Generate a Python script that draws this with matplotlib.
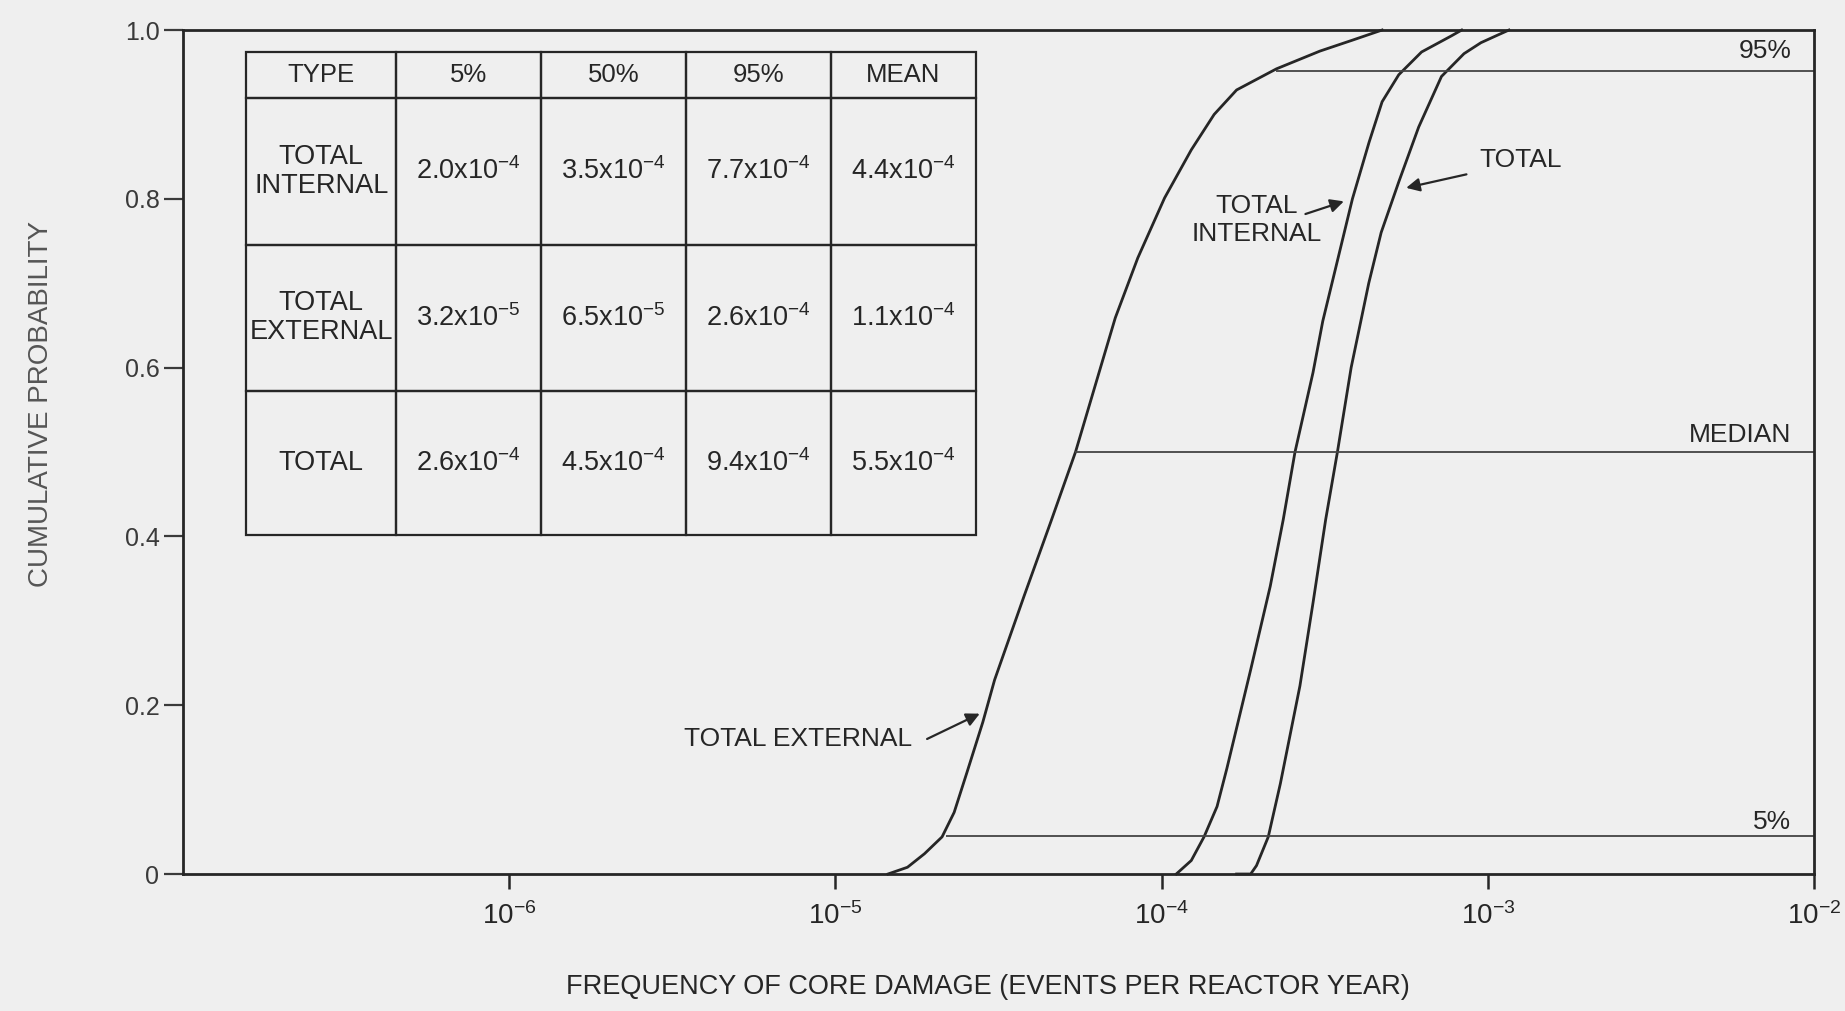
import numpy as np
import matplotlib
matplotlib.use('Agg')
import matplotlib.pyplot as plt
from matplotlib.ticker import NullLocator

# 字体
plt.rcParams['font.family'] = ['Liberation Sans', 'DejaVu Sans']
plt.rcParams['mathtext.fontset'] = 'custom'
plt.rcParams['mathtext.rm'] = 'Liberation Sans'
plt.rcParams['mathtext.it'] = 'Liberation Sans:italic'
plt.rcParams['mathtext.bf'] = 'Liberation Sans:bold'

INK = '#262626'
BG = '#efefef'

# curves: frequency (events per reactor year) vs cumulative probability
ext_freq = [1.449e-5, 1.663e-5, 1.875e-5, 2.123e-5, 2.312e-5, 2.529e-5, 2.831e-5, 3.076e-5,
            3.793e-5, 4.581e-5, 5.445e-5, 6.577e-5, 7.211e-5, 8.453e-5, 1.021e-4, 1.233e-4,
            1.449e-4, 1.698e-4, 2.249e-4, 3.055e-4, 3.846e-4, 4.742e-4]
ext_prob = [0.0, 0.008, 0.024, 0.044, 0.073, 0.120, 0.180, 0.230,
            0.330, 0.418, 0.50, 0.607, 0.659, 0.730, 0.801, 0.858,
            0.900, 0.929, 0.954, 0.975, 0.988, 1.0]

int_freq = [1.109e-4, 1.233e-4, 1.349e-4, 1.479e-4, 1.585e-4, 1.875e-4, 2.153e-4, 2.360e-4,
            2.564e-4, 2.911e-4, 3.119e-4, 3.846e-4, 4.325e-4, 4.742e-4, 5.333e-4, 6.266e-4,
            7.727e-4, 8.318e-4]
int_prob = [0.0, 0.016, 0.044, 0.080, 0.125, 0.242, 0.341, 0.42,
            0.50, 0.594, 0.655, 0.800, 0.867, 0.915, 0.947, 0.974,
            0.993, 1.0]

tot_freq = [1.698e-4, 1.875e-4, 1.954e-4, 2.123e-4, 2.312e-4, 2.655e-4, 2.911e-4, 3.184e-4,
            3.459e-4, 3.811e-4, 4.315e-4, 4.710e-4, 5.333e-4, 6.138e-4, 7.211e-4, 8.453e-4,
            9.528e-4, 1.072e-3, 1.161e-3]
tot_prob = [0.0, 0.0, 0.010, 0.044, 0.107, 0.223, 0.321, 0.42,
            0.50, 0.60, 0.70, 0.76, 0.82, 0.885, 0.945, 0.972,
            0.985, 0.994, 1.0]

# percentile reference lines (start where the external curve crosses them)
ref_levels = [0.045, 0.50, 0.952]
ref_start = [2.18e-5, 5.445e-5, 2.249e-4]
ref_labels = ['5%', 'MEDIAN', '95%']
ref_label_y = [0.062, 0.52, 0.975]

# table
col_labels = ['TYPE', '5%', '50%', '95%', 'MEAN']
types = ['TOTAL\nINTERNAL', 'TOTAL\nEXTERNAL', 'TOTAL']
p05 = [2.0e-4, 3.2e-5, 2.6e-4]
p50 = [3.5e-4, 6.5e-5, 4.5e-4]
p95 = [7.7e-4, 2.6e-4, 9.4e-4]
means = [4.4e-4, 1.1e-4, 5.5e-4]

x_ticks = [1e-6, 1e-5, 1e-4, 1e-3, 1e-2]
y_ticks = [0, 0.2, 0.4, 0.6, 0.8, 1.0]
y_ticklabels = ['0', '0.2', '0.4', '0.6', '0.8', '1.0']


def sci(v):
    e = int(np.floor(np.log10(v) + 1e-9))
    m = round(v / 10 ** e, 1)
    return f'{m:.1f}x10$^{{{e}}}$'


fig = plt.figure(figsize=(18.45, 10.11), dpi=100, facecolor=BG)
ax = fig.add_axes([0.0992, 0.1355, 0.884, 0.8348], facecolor=BG)
ax.set_xscale('log')
ax.set_xlim(1e-7, 1e-2)
ax.set_ylim(0, 1)

for f, p in [(ext_freq, ext_prob), (int_freq, int_prob), (tot_freq, tot_prob)]:
    ax.plot(f, p, color=INK, lw=2.0, clip_on=False, solid_joinstyle='round')

for lvl, x0 in zip(ref_levels, ref_start):
    ax.hlines(lvl, x0, 1e-2, color='#444444', lw=1.3)

ytr = ax.get_yaxis_transform()
for lab, yy in zip(ref_labels, ref_label_y):
    ax.text(0.986, yy, lab, transform=ytr, ha='right', va='center',
            fontsize=19, color=INK)

# curve labels
arrow = dict(arrowstyle='-|>', color=INK, lw=1.6, mutation_scale=20, shrinkA=0, shrinkB=0)
ax.text(1.72e-5, 0.16, 'TOTAL EXTERNAL', ha='right', va='center', fontsize=19, color=INK)
ax.annotate('', xy=(2.77e-5, 0.19), xytext=(1.91e-5, 0.16), arrowprops=arrow)

ax.text(1.96e-4, 0.775, 'TOTAL\nINTERNAL', ha='center', va='center', fontsize=19,
        color=INK, linespacing=1.25)
ax.annotate('', xy=(3.62e-4, 0.797), xytext=(2.76e-4, 0.782), arrowprops=arrow)

ax.text(1.26e-3, 0.846, 'TOTAL', ha='center', va='center', fontsize=19, color=INK)
ax.annotate('', xy=(5.62e-4, 0.813), xytext=(8.6e-4, 0.829), arrowprops=arrow)

# table
rows = [[t, sci(a), sci(b), sci(c), sci(d)] for t, a, b, c, d in zip(types, p05, p50, p95, means)]
col_w = [150.5, 144.5, 145, 145, 144.5]
row_h = [0.0551, 0.1741, 0.1730, 0.1706]
tbl = ax.table(cellText=rows, colLabels=col_labels, cellLoc='center',
               colWidths=[w / sum(col_w) for w in col_w],
               bbox=[0.0386, 0.4017, 0.4473, 0.5728])
tbl.auto_set_font_size(False)
for (r, c), cell in tbl.get_celld().items():
    cell.set_height(row_h[r])
    cell.set_facecolor('none')
    cell.set_edgecolor(INK)
    cell.set_linewidth(1.6)
    cell.get_text().set_fontsize(18.5 if r == 0 else 19.5)
    cell.get_text().set_color(INK)
    cell.get_text().set_linespacing(1.15)

# axes styling
for s in ax.spines.values():
    s.set_linewidth(2.0)
    s.set_color(INK)
ax.set_xticks(x_ticks)
ax.set_xticklabels([f'10$^{{{int(round(np.log10(t)))}}}$' for t in x_ticks])
ax.xaxis.set_minor_locator(NullLocator())
ax.set_yticks(y_ticks)
ax.set_yticklabels(y_ticklabels)
ax.tick_params(axis='x', length=11, width=1.8, pad=9, labelsize=20, colors=INK)
ax.tick_params(axis='y', length=14, width=1.6, pad=3, labelsize=18, colors='#3a3a3a')

ax.set_xlabel('FREQUENCY OF CORE DAMAGE (EVENTS PER REACTOR YEAR)', fontsize=19.5,
              color=INK, va='top')
ax.xaxis.set_label_coords(0.4935, -0.118)
ax.set_ylabel('CUMULATIVE PROBABILITY', fontsize=20, color='#555555')
ax.yaxis.set_label_coords(-0.079, 0.557)

fig.savefig('out.png', dpi=100, facecolor=BG)
